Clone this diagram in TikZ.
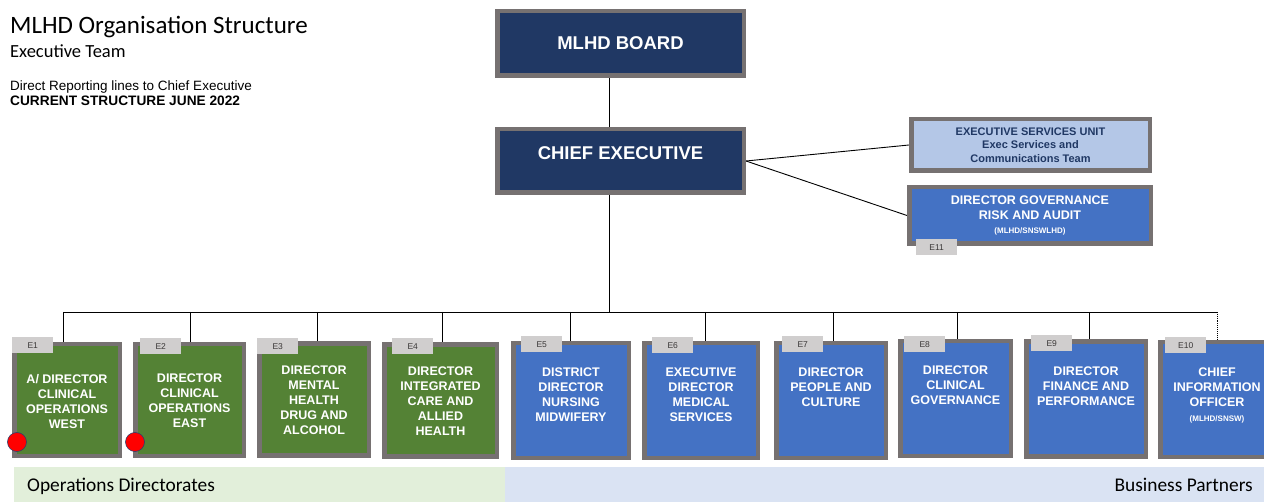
\documentclass[tikz,border=0pt]{standalone}
\usepackage{fontspec}
\setmainfont{Liberation Sans}
\newfontfamily\calibri{Carlito}
\usetikzlibrary{positioning,backgrounds}

\definecolor{navy}{HTML}{203864}
\definecolor{boxgray}{HTML}{767171}
\definecolor{opsgreen}{HTML}{548235}
\definecolor{partnerblue}{HTML}{4472C4}
\definecolor{esublue}{HTML}{B4C7E7}
\definecolor{taggray}{HTML}{D0CECE}
\definecolor{tagtext}{HTML}{3B3838}
\definecolor{opsbar}{HTML}{E2EFDA}
\definecolor{partnerbar}{HTML}{DAE3F3}
\definecolor{dotedge}{HTML}{2F3E6B}

\tikzset{
  orgbox/.style={draw=boxgray, line width=4.5pt, inner sep=0pt},
  boardbox/.style={orgbox, fill=navy, text=white, font=\bfseries\fontsize{18.5}{22}\selectfont},
  opsbox/.style={orgbox, fill=opsgreen, minimum height=111.5},
  partnerbox/.style={orgbox, fill=partnerblue, minimum height=114.5},
  boxtext/.style={text=white, align=center, inner sep=0pt, font=\bfseries\fontsize{12.5}{15}\selectfont},
  tagbox/.style={fill=taggray, minimum width=41, minimum height=16, inner sep=0pt, text=tagtext, font=\fontsize{8.5}{10}\selectfont},
  reddot/.style={circle, fill=red, draw=dotedge, line width=0.6pt, minimum size=19, inner sep=0pt},
  link/.style={draw=black, line width=0.9pt}
}

\begin{document}
\begin{tikzpicture}[x=1pt,y=-1pt]
    \useasboundingbox (0,0) rectangle (1264,502);
    \clip (0,0) rectangle (1264,502);

    % heading
    \node[anchor=base west, inner sep=0pt, font=\calibri\fontsize{25}{28}\selectfont] (title) at (10,34) {MLHD Organisation Structure};
    \node[anchor=base west, inner sep=0pt, font=\calibri\fontsize{18.5}{22}\selectfont] (subtitle) at (10,58) {Executive Team};
    \node[anchor=base west, inner sep=0pt, font=\fontsize{13.5}{16}\selectfont] (reporting) at (10,91) {Direct Reporting lines to Chief Executive};
    \node[anchor=base west, inner sep=0pt, font=\bfseries\fontsize{13.7}{16}\selectfont] (current) at (10,106) {CURRENT STRUCTURE JUNE 2022};

    % board and chief executive
    \node[boardbox, minimum width=246.5, minimum height=64.5] (board) at (620.5,43.5) {MLHD BOARD};
    \node[boardbox, minimum width=246.5, minimum height=63.5] (ceo) at (620.5,161) {};
    \node[boardbox, draw=none, fill=none] (ceotext) at (620.5,153) {CHIEF EXECUTIVE};

    \node[orgbox, fill=esublue, text=navy, align=center, minimum width=238.5, minimum height=51.5, font=\bfseries\fontsize{11}{13.5}\selectfont] (esu) at (1030.5,145) {EXECUTIVE SERVICES UNIT\\Exec Services and\\Communications Team};
    \node[orgbox, fill=partnerblue, text=white, align=center, minimum width=241.5, minimum height=56.5, font=\bfseries\fontsize{12.5}{14.5}\selectfont] (dgra) at (1030,215.5) {DIRECTOR GOVERNANCE\\RISK AND AUDIT\\{\fontsize{8}{14.5}\selectfont (MLHD/SNSWLHD)}};
    \node[tagbox, anchor=north west] (tag11) at (916,239) {E11};

    % operations directorates
    \node[opsbox, minimum width=105.5] (e1) at (67,400) {};
    \node[opsbox, minimum width=108.5] (e2) at (189.5,400) {};
    \node[opsbox, minimum width=109.5] (e3) at (314,399.5) {};
    \node[opsbox, minimum width=112.5] (e4) at (440.5,400.5) {};
    \node[boxtext, below=32pt of e1.north] (e1text) {A/ DIRECTOR\\CLINICAL\\OPERATIONS\\WEST};
    \node[boxtext, below=32pt of e2.north] (e2text) {DIRECTOR\\CLINICAL\\OPERATIONS\\EAST};
    \node[boxtext, below=24pt of e3.north] (e3text) {DIRECTOR\\MENTAL\\HEALTH\\DRUG AND\\ALCOHOL};
    \node[boxtext, below=24pt of e4.north] (e4text) {DIRECTOR\\INTEGRATED\\CARE AND\\ALLIED\\HEALTH};

    % business partners
    \node[partnerbox, minimum width=115.5] (e5) at (571,400.5) {};
    \node[partnerbox, minimum width=113.5] (e6) at (701,400.5) {};
    \node[partnerbox, minimum width=109.5] (e7) at (831,400.5) {};
    \node[partnerbox, minimum width=110.5] (e8) at (955.5,398.5) {};
    \node[partnerbox, minimum width=119.5] (e9) at (1086,399) {};
    \node[partnerbox, minimum width=113.5] (e10) at (1217,399.5) {};
    \node[boxtext, below=27pt of e5.north] (e5text) {DISTRICT\\DIRECTOR\\NURSING\\MIDWIFERY};
    \node[boxtext, below=27pt of e6.north] (e6text) {EXECUTIVE\\DIRECTOR\\MEDICAL\\SERVICES};
    \node[boxtext, below=27pt of e7.north] (e7text) {DIRECTOR\\PEOPLE AND\\CULTURE};
    \node[boxtext, below=27pt of e8.north] (e8text) {DIRECTOR\\CLINICAL\\GOVERNANCE};
    \node[boxtext, below=27pt of e9.north] (e9text) {DIRECTOR\\FINANCE AND\\PERFORMANCE};
    \node[boxtext, below=28pt of e10.north] (e10text) {CHIEF\\INFORMATION\\OFFICER\\{\fontsize{8}{15}\selectfont (MLHD/SNSW)}};

    % position tags
    \node[tagbox, anchor=north west] (tag1) at (12,337) {E1};
    \node[tagbox, anchor=north west] (tag2) at (140,338) {E2};
    \node[tagbox, anchor=north west] (tag3) at (257,338) {E3};
    \node[tagbox, anchor=north west] (tag4) at (392,338) {E4};
    \node[tagbox, anchor=north west] (tag5) at (521,336) {E5};
    \node[tagbox, anchor=north west] (tag6) at (652,337) {E6};
    \node[tagbox, anchor=north west] (tag7) at (782,336) {E7};
    \node[tagbox, anchor=north west] (tag8) at (904,336) {E8};
    \node[tagbox, anchor=north west] (tag9) at (1031,335) {E9};
    \node[tagbox, anchor=north west] (tag10) at (1165,337) {E10};

    \node[reddot] (dot1) at (17,442) {};
    \node[reddot] (dot2) at (135,442) {};

    % footer bands
    \fill[opsbar] (14,467) rectangle (505,502);
    \fill[partnerbar] (505,467) rectangle (1264,502);
    \node[anchor=base west, inner sep=0pt, font=\calibri\fontsize{19.4}{22}\selectfont] (opslabel) at (27,491) {Operations Directorates};
    \node[anchor=base east, inner sep=0pt, font=\calibri\fontsize{19.4}{22}\selectfont] (partnerlabel) at (1253,491) {Business Partners};

    % reporting lines
    \begin{scope}[on background layer]
        \coordinate (spine) at (609,312);
        \draw[link] (board.south -| spine) -- (ceo.north -| spine);
        \draw[link] (ceo.south -| spine) -- (spine);
        \draw[link] (ceo.east) -- (esu.west);
        \draw[link] (ceo.east) -- (dgra.west);
        \draw[link] ([xshift=-4pt]e1.north |- spine) -- (e10.north |- spine);
        \foreach \n/\dx in {e1/-4,e2/0.5,e3/3,e4/1.5,e5/-1,e6/4,e7/2,e8/1.5,e9/3}
            \draw[link] ([xshift=\dx pt]\n.north |- spine) -- ([xshift=\dx pt]\n.north);
        \draw[link, densely dotted] (e10.north |- spine) -- (e10.north);
    \end{scope}
\end{tikzpicture}
\end{document}
